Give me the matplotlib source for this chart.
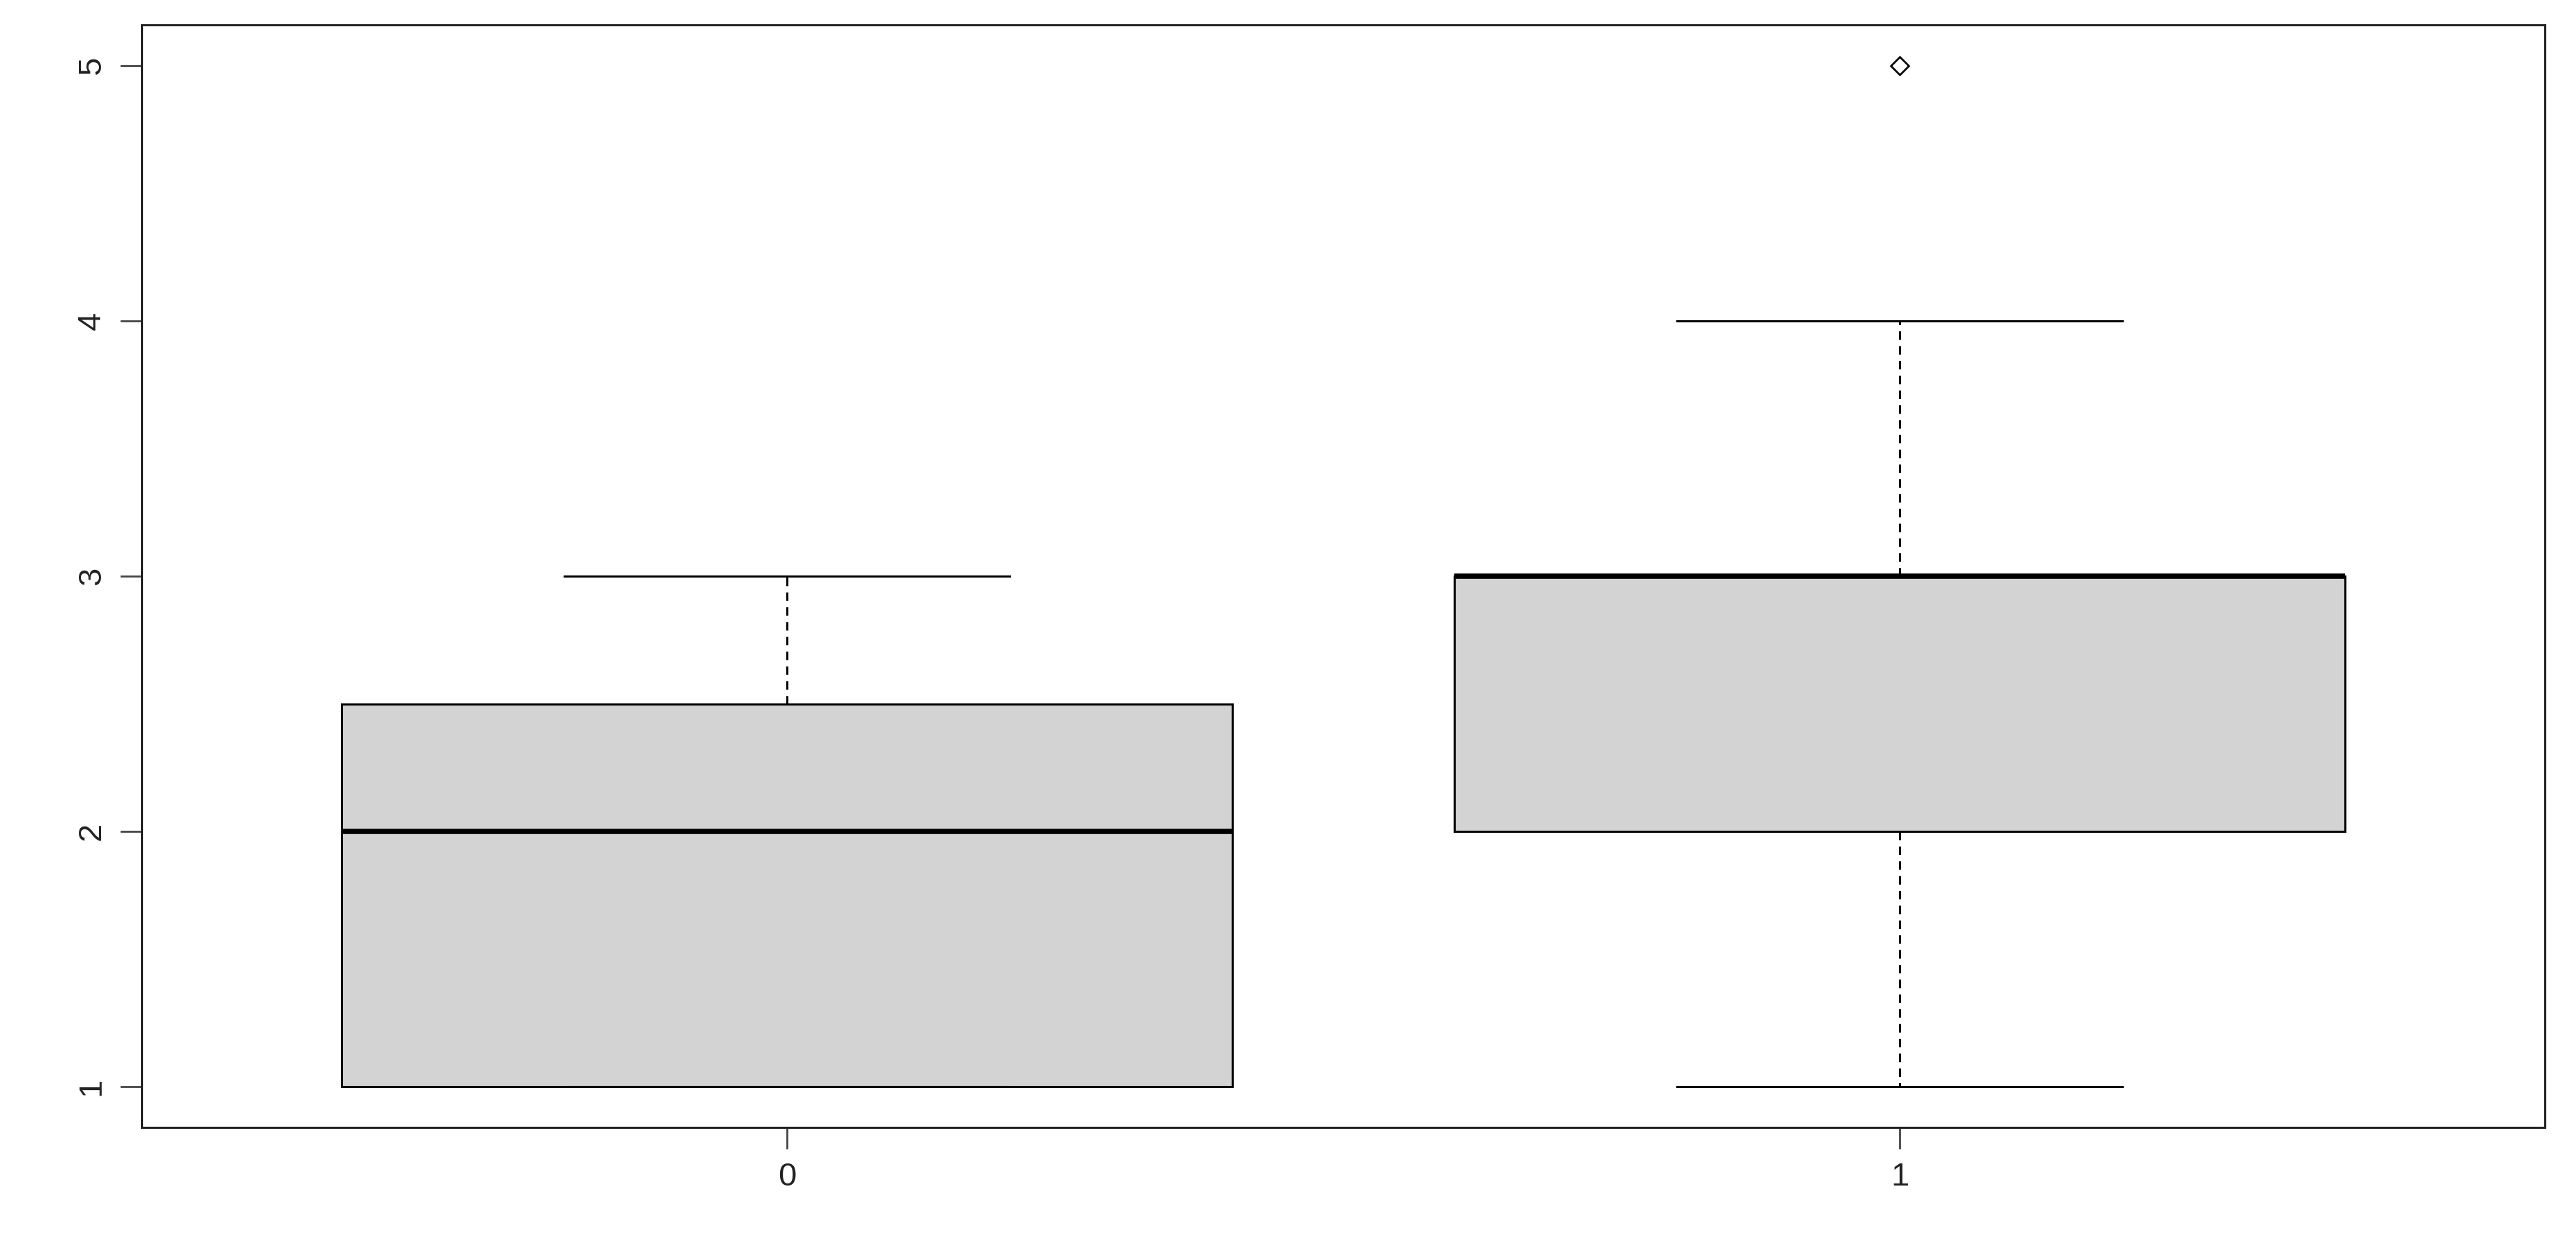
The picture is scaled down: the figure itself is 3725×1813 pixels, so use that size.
import matplotlib
matplotlib.use("Agg")
import matplotlib.pyplot as plt

groups = ["0", "1"]
whislo = [1, 1]
q1 = [1, 2]
med = [2, 3]
q3 = [2.5, 3]
whishi = [3, 4]
fliers = [[], [5]]

stats = [
    {"label": g, "whislo": lo, "q1": a, "med": m, "q3": b, "whishi": hi, "fliers": f}
    for g, lo, a, m, b, hi, f in zip(groups, whislo, q1, med, q3, whishi, fliers)
]

plt.rcParams["font.family"] = "Liberation Sans"
fig = plt.figure(figsize=(37.25, 18.13), dpi=100)
ax = fig.add_axes([0.055, 0.101, 0.933, 0.879])

ax.bxp(stats, positions=[1, 2], widths=0.8, patch_artist=True,
       boxprops=dict(facecolor="#d3d3d3", edgecolor="black", linewidth=2.2),
       medianprops=dict(color="black", linewidth=5.5),
       whiskerprops=dict(color="black", linewidth=2.2, linestyle=(0, (4, 3))),
       capprops=dict(color="black", linewidth=2.2),
       capwidths=0.4,
       flierprops=dict(marker="D", markersize=13, markerfacecolor="none",
                       markeredgecolor="black", markeredgewidth=2))

ax.set_xlim(0.42, 2.58)
ax.set_ylim(0.84, 5.16)
ax.set_xticks([1, 2])
ax.set_xticklabels(groups)
ax.set_yticks([1, 2, 3, 4, 5])
ax.set_yticklabels(["1", "2", "3", "4", "5"], rotation=90, va="center")
ax.tick_params(axis="both", labelsize=34, length=22, width=2, color="#444444",
               labelcolor="#222222")
ax.tick_params(axis="x", pad=14)
ax.tick_params(axis="y", pad=14)
for s in ax.spines.values():
    s.set_linewidth(2.2)
    s.set_color("#222222")

fig.savefig("out.png", dpi=100)
